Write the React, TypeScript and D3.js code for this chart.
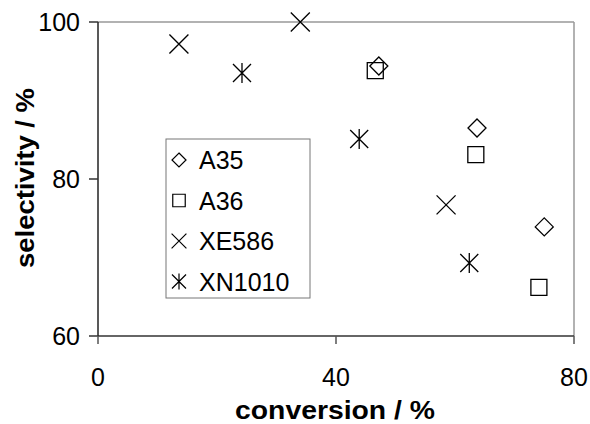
import * as d3 from "d3";

// values
const seriesNames = ["A35", "A36", "XE586", "XN1010"];
const a35Conv = [47.2, 63.7, 75.0];
const a35Sel = [94.4, 86.5, 73.9];
const a36Conv = [46.6, 63.5, 74.1];
const a36Sel = [93.8, 83.1, 66.2];
const xe586Conv = [13.6, 34.0, 58.5];
const xe586Sel = [97.2, 100.0, 76.7];
const xn1010Conv = [24.2, 43.9, 62.4];
const xn1010Sel = [93.5, 85.1, 69.3];
const xTicks = [0, 40, 80];
const yTicks = [60, 80, 100];

const series = [
  { name: seriesNames[0], shape: "diamond", x: a35Conv, y: a35Sel },
  { name: seriesNames[1], shape: "square", x: a36Conv, y: a36Sel },
  { name: seriesNames[2], shape: "cross", x: xe586Conv, y: xe586Sel },
  { name: seriesNames[3], shape: "star", x: xn1010Conv, y: xn1010Sel },
];

const font = "'Liberation Sans', Arial, sans-serif";

function markerPath(shape: string, k: number) {
  const p = d3.path();
  if (shape === "diamond") {
    const h = 9 * k;
    p.moveTo(0, -h); p.lineTo(h, 0); p.lineTo(0, h); p.lineTo(-h, 0); p.closePath();
  } else if (shape === "square") {
    const h = 8 * k;
    p.rect(-h, -h, 2 * h, 2 * h);
  } else if (shape === "cross") {
    const h = 9.5 * k;
    p.moveTo(-h, -h); p.lineTo(h, h); p.moveTo(h, -h); p.lineTo(-h, h);
  } else {
    const h = 9 * k;
    p.moveTo(-h, -h); p.lineTo(h, h); p.moveTo(h, -h); p.lineTo(-h, h);
    p.moveTo(0, -h - 1); p.lineTo(0, h + 1);
  }
  return p.toString();
}

export default function App() {
  const width = 590;
  const height = 424;
  const x = d3.scaleLinear().domain([0, 80]).range([98, 574]);
  const y = d3.scaleLinear().domain([60, 100]).range([336, 22]);

  return (
    <svg width={width} height={height} style={{ position: "absolute", left: 0, top: 0 }}>
      <rect width={width} height={height} fill="#fff" />
      {/* top / right frame */}
      <line x1={x(0)} x2={x(80)} y1={y(100)} y2={y(100)} stroke="#999" strokeWidth={1.5} />
      <line x1={x(80)} x2={x(80)} y1={y(100)} y2={y(60)} stroke="#999" strokeWidth={1.5} />
      {/* axes */}
      <line x1={x(0)} x2={x(80)} y1={y(60)} y2={y(60)} stroke="#333" strokeWidth={1.5} />
      <line x1={x(0)} x2={x(0)} y1={y(100)} y2={y(60)} stroke="#222" strokeWidth={1.5} />
      {yTicks.map((t) => (
        <g key={"y" + t}>
          <line x1={x(0) - 9} x2={x(0)} y1={y(t)} y2={y(t)} stroke="#333" strokeWidth={1.5} />
          <text x={80} y={y(t)} dy="0.36em" textAnchor="end" fontFamily={font} fontSize={25}>{t}</text>
        </g>
      ))}
      {xTicks.map((t) => (
        <g key={"x" + t}>
          <line x1={x(t)} x2={x(t)} y1={y(60)} y2={y(60) + 8} stroke="#555" strokeWidth={1.5} />
          <text x={x(t)} y={386} textAnchor="middle" fontFamily={font} fontSize={25}>{t}</text>
        </g>
      ))}
      <text x={335} y={419} textAnchor="middle" fontFamily={font} fontWeight="bold" fontSize={26}
        textLength={200} lengthAdjust="spacingAndGlyphs">conversion / %</text>
      <text transform={`translate(34,178) rotate(-90)`} textAnchor="middle" fontFamily={font} fontWeight="bold" fontSize={26}
        textLength={180} lengthAdjust="spacingAndGlyphs">selectivity / %</text>

      {series.map((s) => (
        <g key={s.name}>
          {s.x.map((v, i) => (
            <path key={i} d={markerPath(s.shape, 1)} transform={`translate(${x(v)},${y(s.y[i])})`}
              fill="none" stroke="#000" strokeWidth={1.3} />
          ))}
        </g>
      ))}

      {/* legend */}
      <rect x={166} y={139} width={144} height={159} fill="#fff" stroke="#777" strokeWidth={1} />
      {series.map((s, i) => (
        <g key={"l" + s.name} transform={`translate(179,${160 + i * 40.5})`}>
          <path d={markerPath(s.shape, 0.78)} fill="none" stroke="#000" strokeWidth={1.2} />
          <text x={20} dy="0.36em" fontFamily={font} fontSize={25}>{s.name}</text>
        </g>
      ))}
    </svg>
  );
}
